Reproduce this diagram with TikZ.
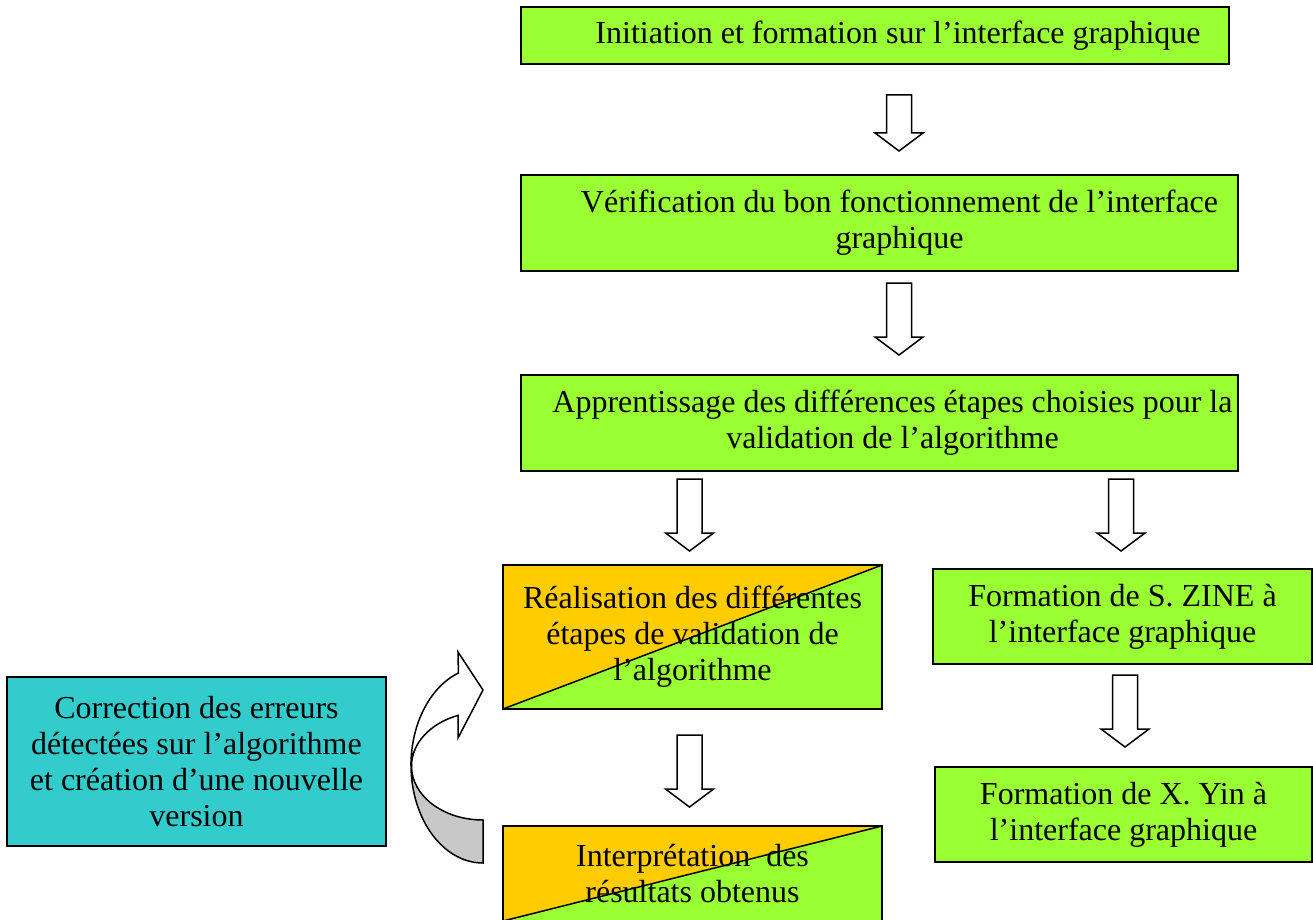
\documentclass[tikz,border=0pt]{standalone}
\usepackage{fontspec}
\setmainfont{Liberation Serif}
\usetikzlibrary{calc}

\definecolor{boxgreen}{HTML}{99FF33}
\definecolor{boxorange}{HTML}{FFCC00}
\definecolor{boxcyan}{HTML}{33CCCC}
\definecolor{foldgray}{HTML}{C8C8C8}

% hollow block arrow pointing down, from #1 (top of shaft) to #2 (tip)
\newcommand{\hollowdown}[2]{%
  \draw[fill=white, line width=0.75pt, line join=miter]
    ($(#1)+(-12.5,0)$) -- ($(#2)+(-12.5,-18)$) -- ($(#2)+(-24,-18)$) -- (#2)
    -- ($(#2)+(24,-18)$) -- ($(#2)+(12.5,-18)$) -- ($(#1)+(12.5,0)$) -- cycle;}

\begin{document}
\begin{tikzpicture}[x=0.5pt, y=-0.5pt,
  every node/.style={font=\fontsize{16}{18}\selectfont, align=center, inner sep=0pt, outer sep=0pt},
  box/.style={draw, line width=1pt, fill=boxgreen},
  splitbox/.style={box, path picture={
      \fill[boxorange] (path picture bounding box.north west) -- (path picture bounding box.north east)
        -- (path picture bounding box.south west) -- cycle;
      \draw[line width=0.75pt] (path picture bounding box.south west) -- (path picture bounding box.north east);}}]
	\clip (0,0) rectangle (1313,920);

	% main column
	\node[box, minimum width=354pt, minimum height=28.5pt,
	  label={[xshift=11.5pt]center:{Initiation et formation sur l'interface graphique}}] (init) at (875,35.5) {};
	\node[box, minimum width=358.5pt, minimum height=48pt,
	  label={[xshift=10pt]center:{Vérification du bon fonctionnement de l'interface\\graphique}}] (verif) at (879.5,223) {};
	\node[box, minimum width=358.5pt, minimum height=48pt,
	  label={[xshift=6.5pt]center:{Apprentissage des différences étapes choisies pour la\\validation de l'algorithme}}] (appr) at (879.5,423) {};

	% left branch
	\node[splitbox, minimum width=189.5pt, minimum height=72pt] (real) at (692.5,637)
	  {Réalisation des différentes\\étapes de validation de\\l'algorithme};
	\node[splitbox, minimum width=189.5pt, minimum height=47.5pt] (interp) at (692.5,873.5)
	  {Interprétation\ \ des\\résultats obtenus};
	\node[box, fill=boxcyan, minimum width=189.5pt, minimum height=84.5pt] (corr) at (196.5,761.5)
	  {Correction des erreurs\\détectées sur l'algorithme\\et création d'une nouvelle\\version};

	% right branch
	\node[box, minimum width=189.5pt, minimum height=47.5pt] (zine) at (1122.5,616.5)
	  {Formation de S. ZINE à\\l'interface graphique};
	\node[box, minimum width=188.5pt, minimum height=47.5pt] (yin) at (1123.5,814.5)
	  {Formation de X. Yin à\\l'interface graphique};

	% block arrows
	\foreach \x/\ya/\yb [count=\i] in {899/95/151, 899/283/355, 689.5/479/551,
	    1121/479/551, 1125/675/747, 689.5/735/807} {
	  \coordinate (atop\i) at (\x,\ya);
	  \coordinate (atip\i) at (\x,\yb);
	  \hollowdown{atop\i}{atip\i}
	}

	% curved return arrow
	\filldraw[fill=foldgray, line width=0.75pt] (411,765) .. controls (411,819) and (443,863) .. (483,863)
	  -- (483,820) .. controls (443.5,820) and (411.5,796) .. (411.5,766) -- cycle;
	\filldraw[fill=white, line width=0.75pt, line join=miter] (458.4,673) .. controls (430,687) and (411,724) .. (411,765)
	  -- (411.5,766) .. controls (411.5,743.5) and (430,723.3) .. (458,715.4)
	  -- (458,738) -- (483,690) -- (458,652) -- cycle;
\end{tikzpicture}
\end{document}
